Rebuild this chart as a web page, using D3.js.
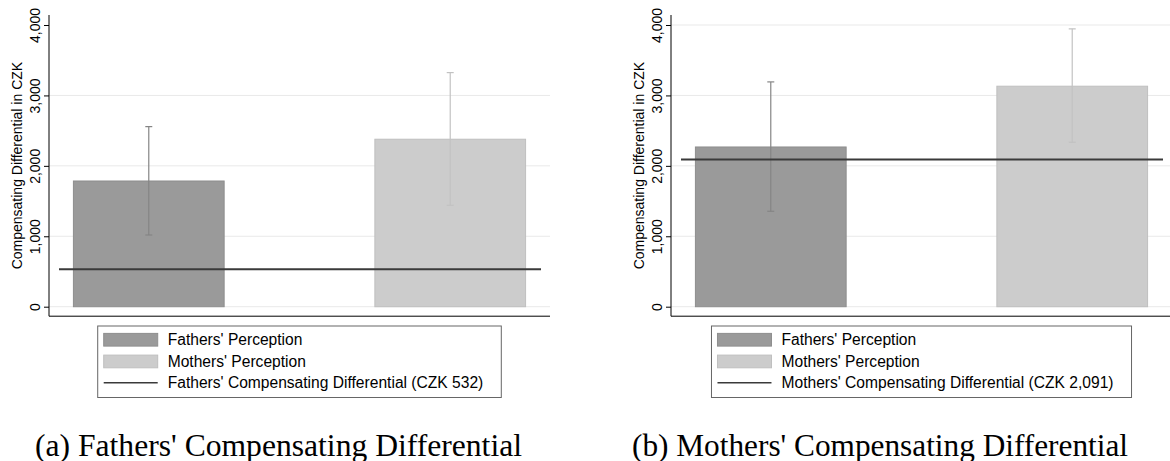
<!DOCTYPE html>
<html>
<head>
<meta charset="utf-8">
<script src="https://cdn.jsdelivr.net/npm/d3@7"></script>
<style>
  html, body { margin: 0; padding: 0; background: #fff; }
  svg { display: block; }
</style>
</head>
<body>
<svg id="chart" width="1170" height="461"></svg>
<script>
// ---------------- DATA ----------------
const categories = ["Fathers' Perception", "Mothers' Perception"];
const yTicks = [0, 1000, 2000, 3000, 4000];

// Panel (a): Fathers' compensating differential
const aMeans = [1785, 2378];
const aLow   = [1018, 1440];
const aHigh  = [2557, 3324];
const aLine  = 532;
const aGrid  = [0, 1000, 2000, 3000];
const aLineLabel = "Fathers' Compensating Differential (CZK 532)";
const aCaption = "(a) Fathers' Compensating Differential";

// Panel (b): Mothers' compensating differential
const bMeans = [2268, 3131];
const bLow   = [1355, 2335];
const bHigh  = [3192, 3945];
const bLine  = 2091;
const bGrid  = [0, 1000, 2000, 3000, 4000];
const bLineLabel = "Mothers' Compensating Differential (CZK 2,091)";
const bCaption = "(b) Mothers' Compensating Differential";

const yTitle = "Compensating Differential in CZK";

// ---------------- STYLE ----------------
const barFill   = ["#9a9a9a", "#cccccc"];
const barStroke = ["#8e8e8e", "#bfbfbf"];
const errColor  = ["#858585", "#c2c2c2"];
const sansFont = "'Liberation Sans', Arial, Helvetica, sans-serif";
const serifFont = "'Liberation Serif', 'Times New Roman', serif";

const svg = d3.select("#chart");

function panel(opts) {
  const g = svg.append("g");
  const x0 = opts.x0, x1 = opts.x0 + 501;
  const y = d3.scaleLinear().domain([0, 4000]).range([306.7, 25]);
  const x = d3.scaleBand().domain(categories).range([x0, x1])
              .paddingInner(0.5).paddingOuter(0.081);

  // gridlines
  g.append("g").selectAll("line").data(opts.grid).join("line")
    .attr("x1", x0).attr("x2", x1)
    .attr("y1", d => y(d)).attr("y2", d => y(d))
    .attr("stroke", "#e9e9e9").attr("stroke-width", 1);

  // bars
  const rows = categories.map((c, i) => ({c, i, m: opts.means[i], lo: opts.low[i], hi: opts.high[i]}));
  g.append("g").selectAll("rect").data(rows).join("rect")
    .attr("x", d => x(d.c)).attr("width", x.bandwidth())
    .attr("y", d => y(d.m)).attr("height", d => y(0) - y(d.m))
    .attr("fill", d => barFill[d.i]).attr("stroke", d => barStroke[d.i]).attr("stroke-width", 1);

  // error bars
  const eg = g.append("g").selectAll("g").data(rows).join("g")
    .attr("stroke", d => errColor[d.i]).attr("stroke-width", 1.2);
  eg.append("line")
    .attr("x1", d => x(d.c) + x.bandwidth() / 2).attr("x2", d => x(d.c) + x.bandwidth() / 2)
    .attr("y1", d => y(d.lo)).attr("y2", d => y(d.hi));
  eg.append("line")
    .attr("x1", d => x(d.c) + x.bandwidth() / 2 - 3.5).attr("x2", d => x(d.c) + x.bandwidth() / 2 + 3.5)
    .attr("y1", d => y(d.hi)).attr("y2", d => y(d.hi));
  eg.append("line")
    .attr("x1", d => x(d.c) + x.bandwidth() / 2 - 3.5).attr("x2", d => x(d.c) + x.bandwidth() / 2 + 3.5)
    .attr("y1", d => y(d.lo)).attr("y2", d => y(d.lo));

  // reference line
  g.append("line")
    .attr("x1", x0 + 10).attr("x2", x1 - 9)
    .attr("y1", y(opts.line)).attr("y2", y(opts.line))
    .attr("stroke", "#3a3a3a").attr("stroke-width", 2);

  // axes lines
  g.append("line").attr("x1", x0).attr("x2", x0)
    .attr("y1", y(4000) - 10).attr("y2", y(0) + 9.5)
    .attr("stroke", "#000").attr("stroke-width", 1);
  g.append("line").attr("x1", x0).attr("x2", x1)
    .attr("y1", y(0) + 9.5).attr("y2", y(0) + 9.5)
    .attr("stroke", "#000").attr("stroke-width", 1);

  // y axis ticks
  const ax = g.append("g").attr("transform", `translate(${x0},0)`)
    .call(d3.axisLeft(y).tickValues(yTicks).tickSize(5).tickSizeOuter(0).tickFormat(d3.format(",")));
  ax.select(".domain").remove();
  ax.selectAll(".tick line").attr("stroke", "#000");
  ax.selectAll(".tick text")
    .attr("x", null).attr("dy", null)
    .attr("transform", "translate(-9,0) rotate(-90)")
    .attr("text-anchor", "middle")
    .attr("font-family", sansFont).attr("font-size", 14).attr("fill", "#000");

  // y title
  g.append("text")
    .attr("transform", `translate(${x0 - 27},${(y(4000) - 10 + y(0) + 9.5) / 2}) rotate(-90)`)
    .attr("text-anchor", "middle")
    .attr("font-family", sansFont).attr("font-size", 14).attr("fill", "#000")
    .text(yTitle);

  // legend
  const lg = g.append("g");
  const box = lg.append("rect").attr("fill", "#fff").attr("stroke", "#666").attr("stroke-width", 1);
  const labels = [categories[0], categories[1], opts.lineLabel];
  const rowY = [339.7, 361.4, 382.8];
  const texts = lg.selectAll("text").data(labels).join("text")
    .attr("y", (d, i) => rowY[i] + 5.5)
    .attr("font-family", sansFont).attr("font-size", 15.6).attr("fill", "#000")
    .text(d => d);
  let tw = 0;
  texts.each(function () { tw = Math.max(tw, this.getComputedTextLength()); });
  const bw = tw + 88;
  const bx = (x0 + x1) / 2 - bw / 2;
  box.attr("x", bx).attr("y", 326).attr("width", bw).attr("height", 71.5);
  texts.attr("x", bx + 70);
  lg.selectAll("rect.sw").data([0, 1]).join("rect").attr("class", "sw")
    .attr("x", bx + 6).attr("width", 54)
    .attr("y", i => rowY[i] - 6.3).attr("height", 12.7)
    .attr("fill", i => barFill[i]).attr("stroke", i => barStroke[i]).attr("stroke-width", 1);
  lg.append("line").attr("x1", bx + 6).attr("x2", bx + 60)
    .attr("y1", rowY[2]).attr("y2", rowY[2])
    .attr("stroke", "#3a3a3a").attr("stroke-width", 1.6);

  // caption
  svg.append("text")
    .attr("x", opts.capX).attr("y", 455.5)
    .attr("font-family", serifFont).attr("font-size", 31).attr("fill", "#000")
    .attr("textLength", opts.capW).attr("lengthAdjust", "spacingAndGlyphs")
    .text(opts.caption);
}

panel({x0: 49, means: aMeans, low: aLow, high: aHigh, line: aLine, grid: aGrid,
       lineLabel: aLineLabel, caption: aCaption, capX: 35, capW: 487});
panel({x0: 671, means: bMeans, low: bLow, high: bHigh, line: bLine, grid: bGrid,
       lineLabel: bLineLabel, caption: bCaption, capX: 632, capW: 496});
</script>
</body>
</html>
